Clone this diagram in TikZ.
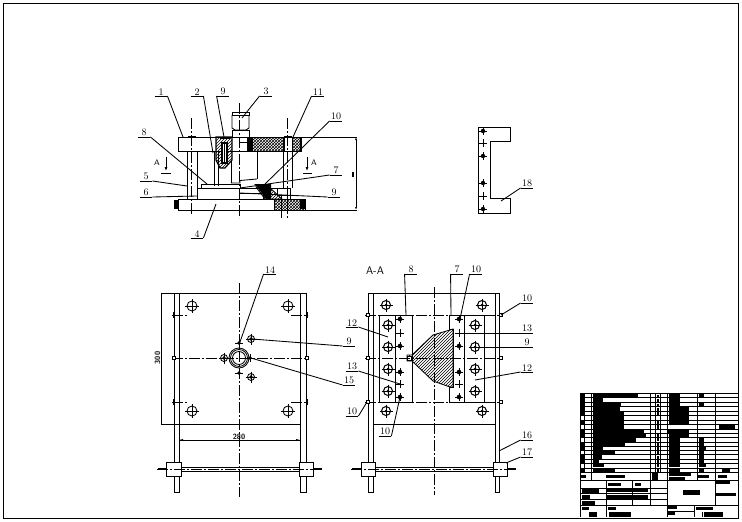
\documentclass[tikz,border=0pt]{standalone}
\usetikzlibrary{patterns,arrows.meta}
\begin{document}
\begin{tikzpicture}[x=1pt,y=-1pt,line width=0.85pt,
  lab/.style={inner sep=0.5pt,minimum width=12pt,font=\fontsize{10}{11}\selectfont},
  dimtxt/.style={inner sep=0.5pt,font=\fontsize{7.5}{8}\sffamily\bfseries},
  sectxt/.style={inner sep=0.5pt,font=\fontsize{8}{9}\sffamily},
  cen/.style={dash pattern=on 11pt off 2pt on 2pt off 2pt,line width=0.7pt},
  blob/.style={fill=black,draw=none},
  cross/.style={pattern=crosshatch,pattern color=black},
  tipped/.style={-{Latex[length=4pt,width=3pt]}}]
\useasboundingbox (0,0) rectangle (742,522);
\draw [black] (3.5,3.5) rectangle (738,518);
% elevation
\draw [black] (178,137) rectangle (300,151);
\draw [black,cross] (252,137) rectangle (283,151);
\draw [black,cross] (292,137) rectangle (301,151);
\fill [black] (247,137) rectangle (252,151);
\draw [black] (187,151) -- (187,199);
\draw [black] (197,151) -- (197,199);
\draw [black] (283,137) -- (283,199);
\draw [black] (292,137) -- (292,188);
\draw [black,line width=1.4pt] (284,137) -- (284,151);
\draw [black,line width=1.4pt] (188,136.5) -- (196,136.5);
\draw [black,line width=1.4pt] (284,136.5) -- (292,136.5);
\draw [black] (232,112) rectangle (249,115);
\draw [black] (232,115) -- (232,128) -- (235,130) -- (246,130) -- (249,128) -- (249,115);
\draw [black] (232,130) rectangle (249,137);
\draw [black] (240,142) -- (249,142);
\draw [black,line width=1.2pt,pattern=north east lines] (216,137) -- (232,137) -- (232,160) -- (225,168) -- (220,168) -- (216,160) -- cycle;
\draw [black,line width=1.2pt,fill=white] (222,143) rectangle (227,163);
\draw [black,line width=1.2pt] (224.5,143) -- (224.5,163);
\draw [black,line width=2.2pt] (220,138) -- (230,138);
\draw [black] (214,151) -- (214,186);
\draw [black] (218,151) -- (218,186);
\draw [black] (231,160) -- (231,183);
\draw [black] (257,151) -- (257,179);
\draw [black] (231,183) -- (240,183) -- (240,180.5) -- (257,179);
\draw [black] (201,184) rectangle (240,188);
\draw [black] (197,188) rectangle (263,199);
\draw [black] (240,193) -- (263,193);
\draw [black] (178,199) rectangle (305,210);
\draw [black,cross] (274,199) rectangle (305,210);
\fill [black] (300,200) rectangle (305,209);
\fill [black] (174,200) rectangle (179,209);
\draw [black,fill=white] (263,188) -- (290,188) -- (290,199) -- (263,199) -- cycle;
\draw [black,pattern=north east lines] (256,187) -- (269,187) -- (282,199) -- (265,199) -- cycle;
\fill [black] (254,184) -- (271,184) -- (271,187) -- (271,199) -- (266,199) -- (258,188) -- cycle;
\draw [black,fill=white] (277,188) rectangle (290,195);
\draw [black] (281,195) -- (281,218);
\draw [black] (287,195) -- (287,210);
\draw [black,cen] (191,118) -- (191,215);
\draw [black,cen] (287,118) -- (287,218);
\draw [black,cen] (239,103) -- (239,218);
\draw [black] (300,137) -- (357,137);
\draw [black] (305,210) -- (357,210);
\draw [black,{Latex[length=3pt,width=2pt]}-{Latex[length=3pt,width=2pt]}] (356,137) -- (356,210);
\draw [black,line width=1.2pt] (353,172) -- (353,177);
% section arrows
\draw [black,tipped] (166,157) -- (166,171);
\draw [black] (161,173) -- (171,173);
\draw [black,tipped] (307,157) -- (307,171);
\draw [black] (303,173) -- (312,173);
\node [sectxt] (secA) at (157,163) {A};
\node [sectxt] (secB) at (314,163) {A};
% part 18
\draw [black] (478,127) -- (510,127) -- (510,141) -- (490,141) -- (490,198) -- (510,198) -- (510,213) -- (478,213) -- cycle;
\foreach \yy in {131,156,183,209} {
  \fill [black] (483,\yy) circle (2.2);
  \draw [black] (479,\yy) -- (487,\yy);
  \draw [black] (483,\yy-4) -- (483,\yy+4);
}
\foreach \yy in {143,196} {
  \draw [black] (479,\yy) -- (487,\yy);
  \draw [black] (483,\yy-4) -- (483,\yy+4);
}
% plan, left
\draw [black] (174,293) rectangle (179,492);
\draw [black] (300,293) rectangle (306,492);
\draw [black] (161,293) -- (306,293);
\draw [black] (161,424) -- (300,424);
\draw [black] (161,293) -- (161,424);
\draw [black] (179,440) -- (300,440);
\fill [black] (179,440) -- (183,439) -- (183,441) -- cycle;
\fill [black] (300,440) -- (296,439) -- (296,441) -- cycle;
\node [dimtxt,rotate=90] (dimH) at (157.5,358) {300};
\node [dimtxt] (dimW) at (239,437) {280};
\draw [black,cen] (239,283) -- (239,497);
\draw [black,cen] (172,358) -- (308,358);
\foreach \yy in {315,402} {
  \draw [black,cen] (172,\yy) -- (188,\yy);
  \draw [black,cen] (291,\yy) -- (308,\yy);
  \draw [black] (173,\yy-3) -- (173,\yy+3);
  \draw [black] (307,\yy-3) -- (307,\yy+3);
}
\draw [black,fill=white] (172,356.5) rectangle (175,359.5);
\draw [black,fill=white] (305,356.5) rectangle (308,359.5);
\foreach \xx/\yy in {192/306,288/306,192/411,288/411} {
  \draw [black] (\xx,\yy) circle (5);
  \draw [black] (\xx-7,\yy) -- (\xx+7,\yy);
  \draw [black] (\xx,\yy-7) -- (\xx,\yy+7);
}
\foreach \rr in {10,8.5,6.5} {\draw [black] (239,358) circle (\rr);}
\foreach \xx/\yy in {251/339,251/377,224/358} {
  \draw [black] (\xx,\yy) circle (3.5);
  \fill [black] (\xx,\yy) circle (1.8);
  \draw [black] (\xx-5.5,\yy) -- (\xx+5.5,\yy);
  \draw [black] (\xx,\yy-5.5) -- (\xx,\yy+5.5);
}
\foreach \xx/\yy in {239/343,239/373,250/358} {
  \fill [black] (\xx,\yy) circle (1.8);
  \draw [black] (\xx-4,\yy) -- (\xx+4,\yy);
  \draw [black] (\xx,\yy-4) -- (\xx,\yy+4);
}
\draw [black] (181,467) -- (299,467);
\draw [black] (181,471) -- (299,471);
\draw [black,fill=white] (166,462) rectangle (181,476);
\draw [black,fill=white] (299,462) rectangle (313,476);
\draw [black,cen] (157,469) -- (322,469);
\draw [black,line width=2pt] (158,469) -- (166,469);
\draw [black,line width=2pt] (313,469) -- (322,469);
% plan, right
\draw [black] (368,293) rectangle (373,492);
\draw [black] (495,293) rectangle (499,492);
\draw [black] (368,293) -- (499,293);
\draw [black] (373,424) -- (495,424);
\draw [black] (379,315) rectangle (412,402);
\draw [black] (395,315) -- (395,402);
\draw [black] (484,315) -- (449,315) -- (449,329) -- (453,329) -- (453,387) -- (449,387) -- (449,402) -- (484,402) -- cycle;
\draw [black] (464,315) -- (464,402);
\draw [black,pattern=north east lines] (453,329) -- (450,330) -- (433,335) -- (412,355) -- (407,355) -- (407,361) -- (412,361) -- (433,381) -- (450,387) -- (453,387) -- cycle;
\draw [black,fill=white] (407,356) rectangle (411,360);
\draw [black,cen] (434,287) -- (434,495);
\foreach \yy in {315,358,402} {
  \draw [black,cen] (365,\yy) -- (503,\yy);
  \draw [black,fill=white] (366,\yy-1.5) rectangle (369,\yy+1.5);
  \draw [black,fill=white] (499,\yy-1.5) rectangle (502,\yy+1.5);
}
\foreach \xx/\yy in {386/305,482/305,386/411,482/411,388/325,388/347,388/369,388/391,475/325,475/347,475/369,475/391} {
  \draw [black,line width=1pt] (\xx,\yy) circle (4.5);
  \fill [black] (\xx,\yy) circle (1.5);
  \draw [black,line width=1pt] (\xx-6.5,\yy) -- (\xx+6.5,\yy);
  \draw [black,line width=1pt] (\xx,\yy-6.5) -- (\xx,\yy+6.5);
}
\foreach \xx in {400,459} {
  \foreach \yy in {319,346,372,397} {
    \fill [black] (\xx,\yy) circle (2.3);
    \draw [black] (\xx-4,\yy) -- (\xx+4,\yy);
    \draw [black] (\xx,\yy-4) -- (\xx,\yy+4);
  }
  \foreach \yy in {333,384} {
    \draw [black] (\xx-4,\yy) -- (\xx+4,\yy);
    \draw [black] (\xx,\yy-4) -- (\xx,\yy+4);
  }
}
\draw [black] (375,467) -- (493,467);
\draw [black] (375,471) -- (493,471);
\draw [black,fill=white] (361,462) rectangle (375,476);
\draw [black,fill=white] (493,462) rectangle (507,476);
\draw [black,cen] (351,469) -- (517,469);
\draw [black,line width=2pt] (352,469) -- (361,469);
\draw [black,line width=2pt] (507,469) -- (516,469);
\node [font=\fontsize{11}{12}\sffamily] (secAA) at (375,271) {A-A};
% leaders
\foreach \name/\txt/\xx/\yy/\side/\tx/\ty in {
  a1/1/161/96/east/183/137, a2/2/197/96/east/213/153, a3/9/223/96/west/224/137,
  a4/3/266/96/west/242/118, a5/11/318/96/west/293/137, a6/10/336/121/west/265/184,
  a7/8/144/137/east/207/184, a8/5/146/181/east/187/186, a9/6/146/197/east/197/196,
  a10/7/336/175/west/240/188, a11/9/334/197/west/240/193, a12/4/197/238/east/216/204,
  b1/14/270/274/west/240/342, b2/9/349/346/west/252/339, b3/15/349/385/west/251/358,
  c1/8/411/274/west/406/315, c2/7/457/274/west/451/315, c3/10/476/274/west/460/319,
  c4/10/527/303/west/501/315, c5/12/352/327/east/388/337, c6/13/527/333/west/459/333,
  c7/9/527/347/west/475/347, c8/12/527/372/west/475/380, c9/13/352/371/east/400/384,
  c10/10/352/416/east/367/402, c11/10/385/436/east/400/397, c12/16/527/440/west/499/451,
  c13/17/527/457/west/506/463, d1/18/527/188/west/501/201} {
  \node [lab,anchor=south] (\name) at (\xx,\yy) {\txt};
  \coordinate (\name t) at (\tx,\ty);
  \draw [black] (\name.south west) -- (\name.south east);
  \draw [black] (\name.south \side) -- (\name t);
}
% title block
\begin{scope}[shift={(575,388)},x=0.3333pt,y=-0.3333pt,line width=0.7pt]
\draw [black] (15,15) -- (490,15);
\foreach \yy in {28,42,56,70,83,97,110,123,136,149,162,175,188,200,213,226,240,253} {
  \draw [black] (15,\yy) -- (490,\yy);
}
\foreach \xx in {15,27,50,227,241,255,277,367,420} {
  \draw [black] (\xx,15) -- (\xx,253);
}
\draw [black] (15,253) -- (15,388);
\draw [black] (15,277) -- (490,277);
\draw [black] (50,253) -- (50,277);
\draw [black] (227,253) -- (227,352);
\draw [black] (277,253) -- (277,388);
\draw [black] (367,253) -- (367,277);
\draw [black] (420,253) -- (420,352);
\foreach \yy in {300,317,335} {\draw [black] (15,\yy) -- (277,\yy);}
\draw [black] (95,277) -- (95,388);
\draw [black] (172,277) -- (172,352);
\draw [black] (15,352) -- (490,352);
\draw [black] (277,370) -- (357,370);
\draw [black] (357,352) -- (357,388);
\foreach \x/\y/\u/\v in {15/15/27/85,15/97/27/110,15/124/27/135,15/137/27/148,15/163/27/187,15/202/27/226,15/242/27/252,
  54/15/188/28,54/30/84/42,54/43/137/56,54/57/134/70,54/71/146/83,54/84/146/95,54/98/146/110,54/111/146/122,54/124/207/135,54/137/212/149,54/150/183/161,54/163/150/174,54/176/84/187,54/189/119/200,54/202/80/212,54/214/72/226,54/228/86/238,54/242/119/252,
  245/20/251/28,245/33/251/42,245/47/251/56,245/60/251/70,245/73/251/83,245/100/251/110,245/112/251/122,245/138/251/148,245/150/251/160,245/163/251/174,245/176/251/187,245/190/251/200,245/203/251/212,245/215/251/226,245/229/251/238,245/243/251/252,
  282/15/314/28,282/30/314/42,282/43/314/56,282/57/341/70,282/71/341/83,282/84/341/95,282/98/341/109,280/124/341/135,282/137/341/149,282/150/314/161,282/163/314/174,282/176/314/187,282/189/314/200,282/202/314/212,282/214/314/226,282/228/314/238,282/242/314/252,
  372/15/386/28,372/43/386/56,372/150/386/161,372/163/386/174,372/176/392/187,372/189/386/200,372/202/386/212,372/214/386/226,372/228/392/238,372/242/386/252,
  432/110/480/122,442/240/465/252,
  18/260/32/270,93/260/150/270,230/253/250/277,282/253/348/263,282/267/330/277,368/260/402/270,428/260/456/270,
  100/285/138/293,180/285/198/293,20/303/72/316,95/303/218/312,20/321/45/333,95/321/218/332,20/339/60/350,
  323/305/375/320,422/278/465/288,422/316/482/323,
  20/357/42/366,42/372/66/386,100/357/122/366,102/371/168/386,277/352/306/362,277/372/300/381,362/357/414/366,388/372/444/386,380/372/382/386} {
  \fill [blob] (\x,\y) rectangle (\u,\v);
}
\end{scope}
\end{tikzpicture}
\end{document}
